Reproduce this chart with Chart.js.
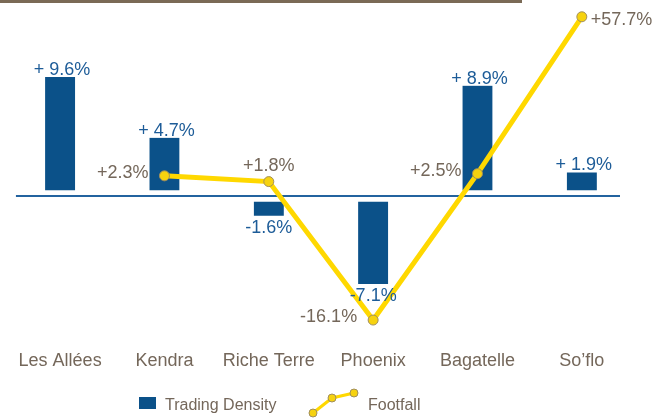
<!DOCTYPE html>
<html>
<head>
<meta charset="utf-8">
<script src="https://cdn.jsdelivr.net/npm/chart.js@4.4.1/dist/chart.umd.min.js"></script>
<style>
	html, body { margin: 0; padding: 0; background: #ffffff; }
	canvas { display: block; }
</style>
</head>
<body>
<canvas id="chart" width="654" height="418"></canvas>
<script>
// data
const categories = ['Les Allées', 'Kendra', 'Riche Terre', 'Phoenix', 'Bagatelle', 'So\u2019flo'];
const tradingDensity = [9.6, 4.7, -1.6, -7.1, 8.9, 1.9];
const footfall = [null, 2.3, 1.8, -16.1, 2.5, 57.7];

// where each footfall label sits next to its point
const footfallLabelSide = [null, 'left', 'top', 'left', 'left', 'right'];

const FONT = '"Liberation Sans", Arial, Helvetica, sans-serif';
const BAR_BLUE = '#0b5189';
const BAR_TEXT = '#1d5c98';
const YELLOW = '#ffd800';
const BROWN_TEXT = '#74675a';
const SYMLOG_C = 4;

// footfall is shown on a compressed (symmetric log) axis
class SymlogScale extends Chart.LinearScale {
	_f(v) { return Math.sign(v) * Math.log(1 + Math.abs(v) / SYMLOG_C); }
	_fi(t) { return Math.sign(t) * SYMLOG_C * (Math.exp(Math.abs(t)) - 1); }
	getPixelForValue(value) {
		const a = this._f(this.min), b = this._f(this.max);
		return this.getPixelForDecimal((this._f(value) - a) / (b - a));
	}
	getValueForPixel(pixel) {
		const a = this._f(this.min), b = this._f(this.max);
		return this._fi(a + this.getDecimalForPixel(pixel) * (b - a));
	}
}
SymlogScale.id = 'symlog';
Chart.register(SymlogScale);

const fmtBar = v => (v >= 0 ? '+ ' : '') + v.toFixed(1) + '%';
const fmtFoot = v => (v >= 0 ? '+' : '') + v.toFixed(1) + '%';

const decorations = {
	id: 'decorations',
	beforeDatasetsDraw(chart) {
		const ctx = chart.ctx;
		const area = chart.chartArea;
		const y0 = Math.round(chart.scales.y.getPixelForValue(0));
		ctx.save();
		// brown rule along the top
		ctx.fillStyle = '#7a6a56';
		ctx.fillRect(0, 0, 522, 3);
		// zero line
		ctx.strokeStyle = '#23639f';
		ctx.lineWidth = 2;
		ctx.beginPath();
		ctx.moveTo(area.left + 8, y0);
		ctx.lineTo(area.right - 14, y0);
		ctx.stroke();
		ctx.restore();
	},
	afterDatasetsDraw(chart) {
		const ctx = chart.ctx;
		ctx.save();
		ctx.font = '18px ' + FONT;

		chart.getDatasetMeta(0).data.forEach((bar, i) => {
			const v = tradingDensity[i];
			ctx.fillStyle = BAR_TEXT;
			ctx.textAlign = 'center';
			if (v >= 0) {
				ctx.textBaseline = 'alphabetic';
				ctx.fillText(fmtBar(v), bar.x + 2, bar.y - 2);
			} else {
				ctx.textBaseline = 'top';
				ctx.fillText(fmtBar(v), bar.x, bar.y + 3);
			}
		});

		chart.getDatasetMeta(1).data.forEach((pt, i) => {
			const v = footfall[i];
			if (v === null) return;
			ctx.fillStyle = BROWN_TEXT;
			const side = footfallLabelSide[i];
			if (side === 'left') {
				ctx.textAlign = 'right';
				ctx.textBaseline = 'middle';
				ctx.fillText(fmtFoot(v), pt.x - 16, pt.y - 3);
			} else if (side === 'top') {
				ctx.textAlign = 'center';
				ctx.textBaseline = 'alphabetic';
				ctx.fillText(fmtFoot(v), pt.x, pt.y - 11);
			} else {
				ctx.textAlign = 'left';
				ctx.textBaseline = 'middle';
				ctx.fillText(fmtFoot(v), pt.x + 9, pt.y + 3);
			}
		});
		ctx.restore();
	},
	afterDraw(chart) {
		// legend row
		const ctx = chart.ctx;
		ctx.save();
		ctx.fillStyle = BAR_BLUE;
		ctx.fillRect(139, 397, 17, 12);
		ctx.font = '16px ' + FONT;
		ctx.fillStyle = BROWN_TEXT;
		ctx.textBaseline = 'alphabetic';
		ctx.textAlign = 'left';
		ctx.fillText('Trading Density', 165, 410);
		ctx.fillText('Footfall', 368, 410);

		const pts = [[313, 413], [332, 398], [354, 393]];
		ctx.strokeStyle = YELLOW;
		ctx.lineWidth = 3;
		ctx.beginPath();
		pts.forEach((p, i) => i ? ctx.lineTo(p[0], p[1]) : ctx.moveTo(p[0], p[1]));
		ctx.stroke();
		ctx.fillStyle = '#f6d20f';
		ctx.strokeStyle = '#a08e5e';
		ctx.lineWidth = 1;
		pts.forEach(p => {
			ctx.beginPath();
			ctx.arc(p[0], p[1], 4, 0, Math.PI * 2);
			ctx.fill();
			ctx.stroke();
		});
		ctx.restore();
	}
};

new Chart(document.getElementById('chart'), {
	data: {
		labels: categories,
		datasets: [{
			type: 'bar',
			label: 'Trading Density',
			data: tradingDensity,
			yAxisID: 'y',
			order: 1,
			backgroundColor: BAR_BLUE,
			borderColor: 'rgba(0,0,0,0)',
			borderSkipped: false,
			borderWidth: c => (c.raw >= 0 ? { bottom: 6 } : { top: 6 }),
			barThickness: 30
		},
		{
			type: 'line',
			label: 'Footfall',
			data: footfall,
			yAxisID: 'y2',
			order: 0,
			borderColor: YELLOW,
			borderWidth: 5,
			tension: 0,
			pointRadius: 5,
			pointBackgroundColor: '#f6d20f',
			pointBorderColor: '#a08e5e',
			pointBorderWidth: 1,
			clip: false
		}]
	},
	options: {
		responsive: false,
		animation: false,
		events: [],
		layout: { padding: { top: 10, left: 7, right: 20, bottom: 28 } },
		plugins: {
			legend: { display: false },
			tooltip: { enabled: false }
		},
		scales: {
			x: {
				offset: true,
				grid: { display: false, drawTicks: false },
				border: { display: false },
				ticks: {
					padding: 18,
					color: BROWN_TEXT,
					font: { family: FONT, size: 18 }
				}
			},
			y: {
				display: false,
				min: -11,
				max: 15
			},
			y2: {
				type: 'symlog',
				display: false,
				min: -20,
				max: 64
			}
		}
	},
	plugins: [decorations]
});
</script>
</body>
</html>
